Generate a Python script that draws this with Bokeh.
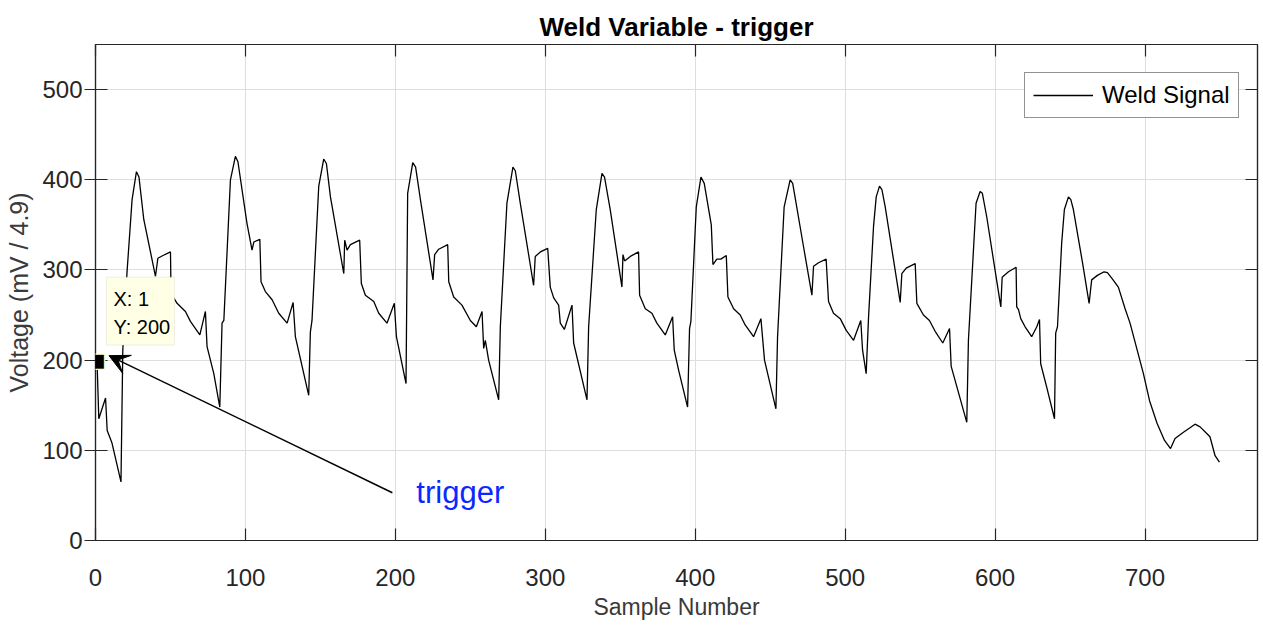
from bokeh.plotting import figure
from bokeh.models import (Range1d, LinearAxis, FixedTicker, Legend, LegendItem,
                          Arrow, VeeHead, Label, BoxAnnotation)
from bokeh.embed import file_html
from bokeh.resources import INLINE

# ---- data ----
sample = [1, 2.2, 6.7, 7.8, 11, 17, 18.2, 21, 24.4, 27.3, 29, 32.2, 40, 41.6, 45, 50, 50.4, 54.4, 60,
          63.3, 69.6, 73.3, 74.4, 78.9, 82.9, 84.4, 85.6, 90, 93.3, 95, 101, 104.4, 105.6, 109.6,
          110.4, 113.3, 117.8, 122.2, 127.8, 131.8, 133.3, 142.2, 143.3, 144.4, 148.9, 152.2, 154,
          156.7, 165.6, 166.2, 167.8, 170, 176.2, 177.3, 180, 185.6, 188.9, 194.4, 199.3, 200.7,
          207.1, 208.2, 211.6, 213.5, 216.7, 225.1, 226.2, 228.9, 234.9, 235.6, 238.9, 244.4, 250,
          254, 257.8, 258.9, 260, 262.2, 268.9, 270, 274.4, 278.4, 280, 283.3, 292.2, 293.3, 296.7,
          301.6, 303.3, 305.6, 308.9, 310, 312.7, 317.8, 318.9, 327.8, 328.9, 334, 337.8, 339.5,
          343.3, 351.1, 351.8, 352.9, 356.7, 362.2, 362.9, 366.7, 371.1, 374.4, 380, 384.9, 386,
          388.9, 394.9, 396.2, 397.1, 400.7, 403.8, 406, 410.7, 411.8, 414.4, 417.1, 420.7, 421.8,
          425.6, 430, 433.3, 438.9, 443.8, 446.2, 453.8, 454.9, 459.3, 463.3, 465, 472.2, 477.8,
          478.9, 482.2, 487.3, 488.9, 492.2, 496.7, 500.7, 505.6, 510.4, 511.6, 514, 515.6, 518.9,
          520.7, 522.9, 524.5, 526.7, 536.7, 537.8, 540.7, 546.7, 547.8, 552.2, 556.2, 560, 565.1,
          569.6, 570.7, 581.1, 582.2, 587.3, 590, 591.5, 594.4, 603.8, 604.7, 608.9, 614, 614.4,
          615.6, 617.1, 620, 624.4, 627.8, 629.6, 630.4, 634.4, 639.6, 640.4, 641.6, 644.4, 646.2,
          648.9, 650.5, 652.2, 658.4, 662.7, 664.4, 668.2, 672.7, 674.9, 677.8, 682.2, 686.7, 690,
          698.9, 703, 708, 713, 717, 720, 725.6, 730, 733.3, 736.7, 741, 743.3, 746.7, 749.6]
voltage = [200, 135, 158, 122, 108, 65, 211, 297, 378, 409, 403, 356, 293, 313, 316, 320, 274, 263, 254,
           243, 228, 254, 215, 185, 148, 241, 244, 400, 426, 420, 352, 322, 331, 334,
           287, 276, 267, 252, 241, 264, 226, 161, 231, 244, 393, 423, 418,
           381, 296, 333, 322, 328, 333, 285, 272, 265, 252, 241, 263, 226,
           174, 385, 419, 414, 378, 289, 317, 323, 328, 287, 270, 261, 244,
           237, 254, 213, 222, 200, 156, 237, 374, 414, 410, 374, 283, 315, 320,
           324, 281, 269, 261, 241, 234, 261, 219, 156, 237, 367, 407, 403,
           367, 281, 317, 310, 315, 320, 272, 257, 252, 241, 228, 248, 211,
           189, 148, 235, 243, 370, 403, 396, 350, 306, 312, 312, 316, 270,
           257, 250, 239, 226, 246, 200, 146, 226, 370, 400, 396, 326, 272,
           304, 308, 312, 265, 252, 246, 233, 222, 244, 211, 185, 248, 348,
           381, 393, 389, 370, 264, 296, 302, 307, 263, 250, 244, 232, 219,
           235, 193, 131, 222, 374, 387, 385, 359, 259, 292, 298, 303, 259,
           256, 246, 237, 226, 237, 245, 196, 170, 135, 230, 237, 330, 367,
           381, 378, 367, 307, 263, 289, 294, 298, 297, 291, 281, 257, 241,
           185, 155, 130, 111, 102, 113, 120, 125, 129, 126, 119, 115, 94, 87]
x_ticks = [0, 100, 200, 300, 400, 500, 600, 700]
y_ticks = [0, 100, 200, 300, 400, 500]

AX = "#262626"
FONT = "Liberation Sans"

p = figure(width=1262, height=625, output_backend="svg", toolbar_location=None,
           x_range=Range1d(0, 775), y_range=Range1d(0, 550),
           min_border_left=95, min_border_right=5, min_border_top=44, min_border_bottom=85,
           background_fill_color="white", border_fill_color="white")

# title
p.title.text = "Weld Variable - trigger"
p.title.align = "center"
p.title.text_font = FONT
p.title.text_font_size = "26px"
p.title.text_font_style = "bold"
p.title.text_color = "black"
p.title.standoff = 6

def style_axis(ax, ticks, show_labels, tick_out=0):
    ax.axis_line_color = AX
    ax.axis_line_width = 1.2
    if show_labels:
        ax.ticker = FixedTicker(ticks=ticks)
        ax.major_tick_line_color = AX
        ax.major_tick_line_width = 1.2
        ax.major_tick_in = 12
        ax.major_tick_out = tick_out
        ax.minor_tick_line_color = None
        ax.major_label_text_font = FONT
        ax.major_label_text_font_size = "24px"
        ax.major_label_text_color = AX
    else:
        # tick marks only (as minor ticks), no labels
        ax.ticker = FixedTicker(ticks=[], minor_ticks=ticks)
        ax.major_tick_line_color = None
        ax.minor_tick_line_color = AX
        ax.minor_tick_line_width = 1.2
        ax.minor_tick_in = 12
        ax.minor_tick_out = 0
        ax.major_label_standoff = 0

bx = p.xaxis[0]
style_axis(bx, x_ticks, True)
bx.major_label_standoff = 28
bx.axis_label = "Sample Number"
bx.axis_label_text_font = FONT
bx.axis_label_text_font_size = "23px"
bx.axis_label_text_font_style = "normal"
bx.axis_label_text_color = "#3a3a3a"
bx.axis_label_standoff = 5

ly = p.yaxis[0]
style_axis(ly, y_ticks, True, tick_out=11)
ly.major_label_standoff = 2
ly.axis_label = "Voltage (mV / 4.9)"
ly.axis_label_text_font = FONT
ly.axis_label_text_font_size = "25px"
ly.axis_label_text_font_style = "normal"
ly.axis_label_text_color = "#3a3a3a"
ly.axis_label_standoff = 6

tx = LinearAxis()
style_axis(tx, x_ticks, False)
p.add_layout(tx, "above")
ry = LinearAxis()
style_axis(ry, y_ticks, False)
p.add_layout(ry, "right")

p.xgrid.ticker = FixedTicker(ticks=x_ticks)
p.ygrid.ticker = FixedTicker(ticks=y_ticks)
for g in (p.xgrid[0], p.ygrid[0]):
    g.grid_line_color = "#dedede"
    g.grid_line_width = 1

p.outline_line_color = AX
p.outline_line_width = 1.2

line = p.line(sample, voltage, line_color="black", line_width=1.3)

# legend
legend = Legend(items=[LegendItem(label="Weld Signal", renderers=[line])],
                location=(929, 422), orientation="vertical")
legend.label_text_font = FONT
legend.label_text_font_size = "24px"
legend.label_text_color = "black"
legend.border_line_color = AX
legend.border_line_width = 1.2
legend.background_fill_color = "white"
legend.background_fill_alpha = 1
legend.glyph_width = 60
legend.glyph_height = 24
legend.label_height = 24
legend.label_standoff = 9
legend.padding = 8
legend.spacing = 0
legend.margin = 0
p.add_layout(legend)

# data tip at the trigger point
tip_x, tip_y = sample[0], voltage[0]
p.add_layout(Label(x=tip_x, y=tip_y, text="\u25A0", text_font="DejaVu Sans",
                   text_font_size="20px", text_color="black", text_align="center",
                   text_baseline="middle", text_outline_color="#FFFFC8", y_offset=0))
box = BoxAnnotation(left=tip_x + 6.3, right=tip_x + 51.7, bottom=tip_y + 16.7, top=tip_y + 92,
                    fill_color="#FFFFE6", fill_alpha=1, line_color="#C8C8C8", line_width=1)
p.add_layout(box)
for txt, dy in ((f"X: {tip_x}", 68), (f"Y: {tip_y}", 37)):
    p.add_layout(Label(x=tip_x + 11, y=tip_y + dy, text=txt, text_font=FONT,
                       text_font_size="20px", text_color="black", text_baseline="middle"))

# trigger arrow and text
p.add_layout(Arrow(end=VeeHead(size=20, fill_color="black", line_color="black"),
                   x_start=198, y_start=53, x_end=tip_x + 8, y_end=tip_y + 5,
                   line_color="black", line_width=1.5))
p.add_layout(Label(x=214, y=53, text="trigger", text_font=FONT, text_font_size="31px",
                   text_color="#0A28FF", text_baseline="middle"))

open("out.html", "w").write(file_html(p, INLINE))
